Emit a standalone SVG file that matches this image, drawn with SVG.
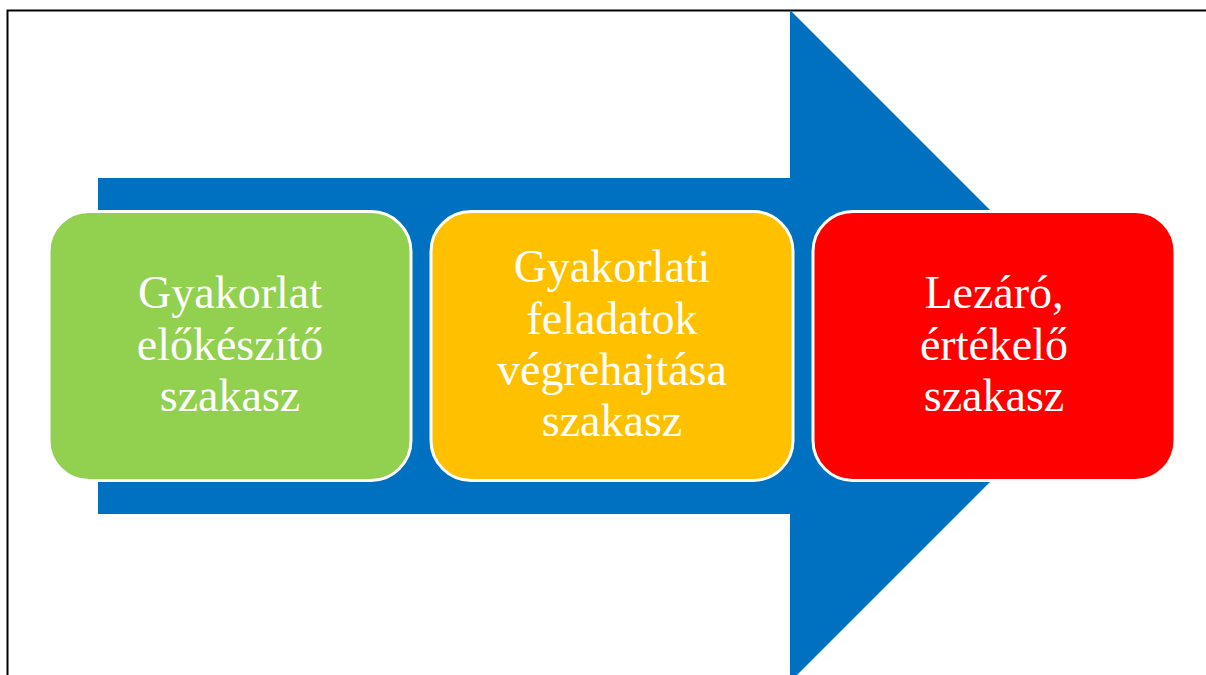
<svg xmlns="http://www.w3.org/2000/svg" width="1206" height="675" viewBox="0 0 1206 675">
<style>
.box{stroke:#FFFFFF;stroke-width:3}
.lbl{font-family:"Liberation Serif","Times New Roman",serif;font-size:46px;fill:#FFFFFF;text-anchor:middle}
</style>
<rect x="0" y="0" width="1206" height="675" fill="#FFFFFF"/>
<path d="M7.5 675 V10.5 H1206" fill="none" stroke="#000000" stroke-width="2"/>
<g id="arrow">
<polygon points="98,178 790,178 790,10 1126,346 790,682 790,514 98,514" fill="#0070C0"/>
</g>
<g id="connectors"></g>
<g id="node1">
<rect class="box" x="49" y="211.5" width="362" height="269" rx="40" fill="#92D050"/>
<text class="lbl" x="230" y="308">Gyakorlat</text>
<text class="lbl" x="230" y="359.5">előkészítő</text>
<text class="lbl" x="230" y="411">szakasz</text>
</g>
<g id="node2">
<rect class="box" x="431" y="211.5" width="362" height="269" rx="40" fill="#FFC000"/>
<text class="lbl" x="612" y="282">Gyakorlati</text>
<text class="lbl" x="612" y="333.5">feladatok</text>
<text class="lbl" x="612" y="385">végrehajtása</text>
<text class="lbl" x="612" y="436">szakasz</text>
</g>
<g id="node3">
<rect class="box" x="813" y="211.5" width="362" height="269" rx="40" fill="#FF0000"/>
<text class="lbl" x="994" y="308">Lezáró,</text>
<text class="lbl" x="994" y="359.5">értékelő</text>
<text class="lbl" x="994" y="411">szakasz</text>
</g>
</svg>
